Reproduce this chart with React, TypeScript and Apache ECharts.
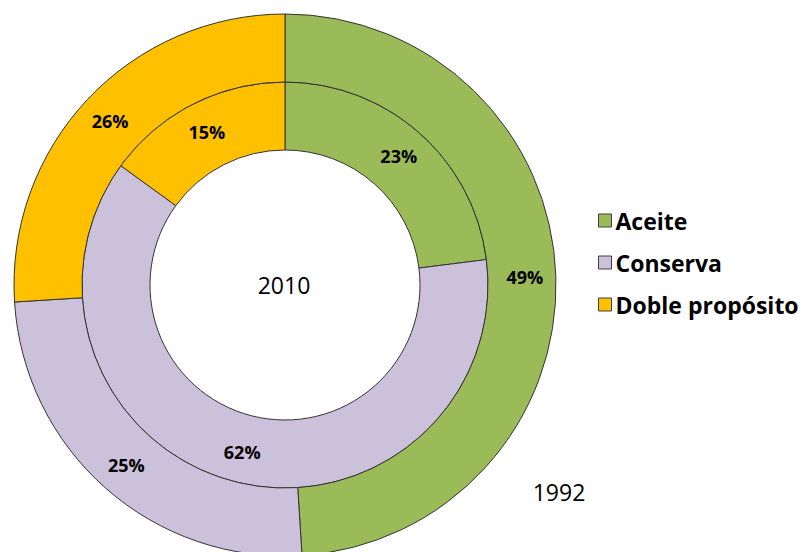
import React, { useEffect, useRef } from "react";
import * as echarts from "echarts";

const categories = ["Aceite", "Conserva", "Doble propósito"];
const values1992 = [49, 25, 26];
const values2010 = [23, 62, 15];
const colors = ["#9BBB59", "#CCC1DA", "#FFC000"];
const innerLabel = "2010";
const outerLabel = "1992";

export default function App() {
  const ref = useRef<HTMLDivElement>(null);
  useEffect(() => {
    if (!ref.current) return;
    const chart = echarts.init(ref.current, null, { renderer: "svg" });
    const font = "'Open Sans', 'Noto Sans', sans-serif";
    const labelStyle = {
      show: true,
      position: "inside",
      formatter: "{c}%",
      color: "#000",
      fontWeight: "bold",
      fontSize: 18,
      fontFamily: font,
    };
    const mk = (vals: number[]) =>
      categories.map((name, i) => ({
        name,
        value: vals[i],
        itemStyle: { color: colors[i] },
      }));
    chart.setOption({
      animation: false,
      backgroundColor: "#fff",
      legend: {
        orient: "vertical",
        left: 593,
        top: 204,
        itemWidth: 13,
        itemHeight: 13,
        itemGap: 19,
        icon: "rect",
        selectedMode: false,
        data: categories,
        itemStyle: { borderColor: "#404040", borderWidth: 1 },
        textStyle: {
          fontFamily: font,
          fontWeight: "bold",
          fontSize: 23,
          color: "#000",
          padding: [0, 0, 0, -1],
        },
      },
      graphic: [
        {
          type: "text",
          x: 284,
          y: 285,
          style: {
            text: innerLabel,
            fontFamily: font,
            fontSize: 23,
            fill: "#000",
            textAlign: "center",
            textVerticalAlign: "middle",
          },
        },
        {
          type: "text",
          x: 559,
          y: 492,
          style: {
            text: outerLabel,
            fontFamily: font,
            fontSize: 23,
            fill: "#000",
            textAlign: "center",
            textVerticalAlign: "middle",
          },
        },
      ],
      series: [
        {
          type: "pie",
          name: innerLabel,
          center: [285, 285],
          radius: [135, 203],
          startAngle: 90,
          clockwise: true,
          silent: true,
          label: labelStyle,
          labelLine: { show: false },
          itemStyle: { borderColor: "#333", borderWidth: 1 },
          data: mk(values2010),
        },
        {
          type: "pie",
          name: outerLabel,
          center: [285, 285],
          radius: [203, 271],
          startAngle: 90,
          clockwise: true,
          silent: true,
          label: labelStyle,
          labelLine: { show: false },
          itemStyle: { borderColor: "#333", borderWidth: 1 },
          data: mk(values1992),
        },
      ],
    });
    return () => chart.dispose();
  }, []);
  return (
    <div
      ref={ref}
      style={{ position: "absolute", left: 0, top: 0, width: 803, height: 552 }}
    />
  );
}
